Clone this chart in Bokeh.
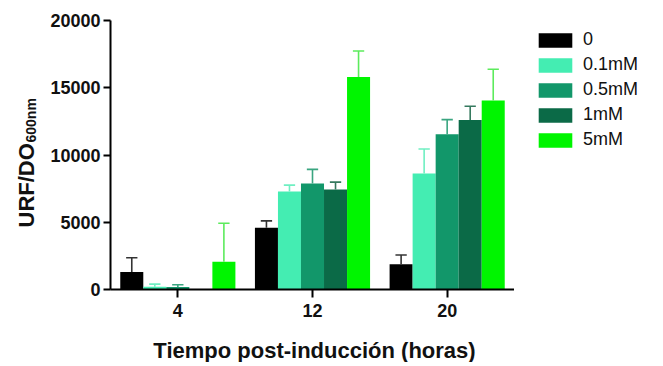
import numpy as np
from bokeh.plotting import figure
from bokeh.layouts import row, column
from bokeh.models import (Range1d, FixedTicker, NumeralTickFormatter, Legend,
                          LegendItem, ColumnDataSource)
from bokeh.core.properties import value
from bokeh.embed import file_html
from bokeh.resources import INLINE

# ---- data ----
times = ["4", "12", "20"]
series = ["0", "0.1mM", "0.5mM", "1mM", "5mM"]
mean_0 = [1300, 4600, 1870]
mean_01 = [200, 7280, 8630]
mean_05 = [180, 7880, 11540]
mean_1 = [0, 7430, 12610]
mean_5 = [2060, 15790, 14050]
err_0 = [1060, 500, 700]
err_01 = [200, 480, 1820]
err_05 = [170, 1050, 1090]
err_1 = [0, 550, 1020]
err_5 = [2870, 1940, 2320]
y_ticks = [0, 5000, 10000, 15000, 20000]
y_title = "URF/DO"
y_title_sub = "600nm"
x_title = "Tiempo post-inducción (horas)"

means = [mean_0, mean_01, mean_05, mean_1, mean_5]
errs = [err_0, err_01, err_05, err_1, err_5]
colors = ["#000000", "#44EDB2", "#12976A", "#0B6A47", "#00F500"]
err_colors = ["#333333", "#6FEFC2", "#3AA580", "#35795E", "#5CEB5C"]

FONT = "Liberation Sans"
TXT = "#111111"

LEFT_W = 44
MAIN_W = 470
RIGHT_W = 146
TOP_H = 330
BOT_H = 32
TOTAL_W = LEFT_W + MAIN_W + RIGHT_W
B_TOP = 20
B_BOT = 41
FRAME_H = TOP_H - B_TOP - B_BOT


def strip(w, h, top=0, bottom=0, y0=0):
    f = figure(width=w, height=h, output_backend="svg", toolbar_location=None,
               x_range=Range1d(0, w), y_range=Range1d(y0, y0 + h - top - bottom),
               x_axis_location=None, y_axis_location=None,
               min_border=0, min_border_left=0, min_border_right=0,
               min_border_top=top, min_border_bottom=bottom)
    f.outline_line_color = None
    f.grid.visible = False
    return f


# ---- main chart ----
p = figure(width=MAIN_W, height=TOP_H, output_backend="svg", toolbar_location=None,
           x_range=Range1d(0.5, 3.5), y_range=Range1d(0, 20000),
           min_border=0, min_border_left=66, min_border_top=B_TOP,
           min_border_bottom=B_BOT, min_border_right=0)
p.grid.visible = False
p.outline_line_color = None

bw = 0.171
cap = 0.042
group_x = np.arange(1, len(times) + 1)
for i, (m, e) in enumerate(zip(means, errs)):
    xs = group_x + (i - 2) * bw
    m = np.array(m, dtype=float)
    e = np.array(e, dtype=float)
    src = ColumnDataSource(dict(x=xs, top=m))
    p.vbar(x="x", top="top", bottom=0, width=bw, source=src,
           fill_color=colors[i], line_color=None)
    mask = e > 0
    esrc = ColumnDataSource(dict(x=xs[mask], top=m[mask], up=(m + e)[mask],
                                 cx0=(xs - cap)[mask], cx1=(xs + cap)[mask]))
    p.segment(x0="x", y0="top", x1="x", y1="up", source=esrc,
              line_color=err_colors[i], line_width=1.6)
    p.segment(x0="cx0", y0="up", x1="cx1", y1="up", source=esrc,
              line_color=err_colors[i], line_width=1.6)

xa = p.xaxis[0]
xa.ticker = FixedTicker(ticks=list(group_x))
xa.major_label_overrides = {int(g): t for g, t in zip(group_x, times)}
ya = p.yaxis[0]
ya.ticker = FixedTicker(ticks=y_ticks)
ya.formatter = NumeralTickFormatter(format="0")
for ax in (xa, ya):
    ax.axis_line_width = 2
    ax.axis_line_color = "black"
    ax.major_tick_line_width = 2
    ax.major_tick_line_color = "black"
    ax.major_tick_in = 0
    ax.minor_tick_line_color = None
    ax.major_label_text_font = FONT
    ax.major_label_text_font_style = "bold"
    ax.major_label_text_font_size = "18px"
    ax.major_label_text_color = TXT
    ax.axis_label = None
xa.major_tick_out = 8
xa.major_label_standoff = 6
ya.major_tick_out = 7
ya.major_label_standoff = 3

# ---- legend strip (right) ----
pr = strip(RIGHT_W, TOP_H, B_TOP, B_BOT)
leg_renderers = [pr.vbar(x=[0], top=[0], bottom=0, width=1,
                         fill_color=c, line_color=None) for c in colors]
legend = Legend(items=[LegendItem(label=s, renderers=[r])
                       for s, r in zip(series, leg_renderers)],
                location=(20, 139), orientation="vertical",
                glyph_width=42, glyph_height=18, label_standoff=7,
                label_text_font=FONT, label_text_font_size="18px",
                label_text_color=TXT, label_height=17,
                spacing=4, padding=0, margin=0,
                border_line_color=None, background_fill_alpha=0)
pr.add_layout(legend, "center")

# ---- y-axis title strip (left); data y = TOP_H - screen y ----
pl = strip(LEFT_W, TOP_H, B_TOP, B_BOT, y0=B_BOT)
pl.text(x=[26], y=[TOP_H - 227], text=[y_title], angle=np.pi / 2,
        text_font=value(FONT), text_font_style="bold", text_font_size="22px",
        text_align="left", text_baseline="alphabetic", text_color=TXT)
pl.text(x=[30.5], y=[TOP_H - 142], text=[y_title_sub], angle=np.pi / 2,
        text_font=value(FONT), text_font_style="bold", text_font_size="14px",
        text_align="left", text_baseline="alphabetic", text_color=TXT)

# ---- x-axis title strip (bottom) ----
pb = strip(TOTAL_W, BOT_H)
pb.text(x=[314], y=[12], text=[x_title],
        text_font=value(FONT), text_font_style="bold", text_font_size="22px",
        text_align="center", text_baseline="alphabetic", text_color=TXT)

layout = column(row(pl, p, pr, spacing=0), pb, spacing=0)
open("out.html", "w").write(file_html(layout, INLINE))
